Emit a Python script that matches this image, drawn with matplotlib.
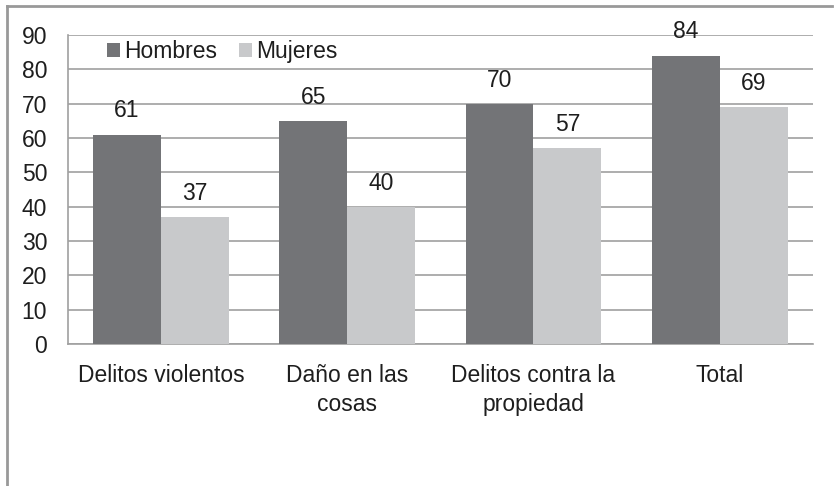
import numpy as np
import matplotlib
matplotlib.use("Agg")
import matplotlib.pyplot as plt
from matplotlib.lines import Line2D

plt.rcParams['font.family'] = ['Liberation Sans', 'DejaVu Sans']

categorias = ["Delitos violentos", "Daño en las\ncosas", "Delitos contra la\npropiedad", "Total"]
hombres = [61, 65, 70, 84]
mujeres = [37, 40, 57, 69]
series = ["Hombres", "Mujeres"]
colores = ["#737477", "#c8c9cb"]

FS = 16.5
TXT = "#1e1e1e"

fig = plt.figure(figsize=(8.35, 4.86), dpi=100)
ax = fig.add_axes([0.0814, 0.292, 0.892, 0.636])

x = np.arange(len(categorias))
w = 0.365
b1 = ax.bar(x - w / 2, hombres, w, color=colores[0], label=series[0], zorder=3)
b2 = ax.bar(x + w / 2, mujeres, w, color=colores[1], label=series[1], zorder=3)

# etiquetas de valor sobre las barras
for bars, vals in ((b1, hombres), (b2, mujeres)):
    for r, v in zip(bars, vals):
        ax.annotate(str(v), (r.get_x() + r.get_width() / 2, v),
                    xytext=(0, 17), textcoords="offset points",
                    ha="center", va="center", fontsize=FS, color=TXT, zorder=4)

ax.set_xlim(-0.5, 3.5)
ax.set_ylim(0, 90)
ax.set_yticks(range(0, 91, 10))
ax.set_xticks(x)
ax.set_xticklabels(categorias, fontsize=FS, color=TXT, linespacing=1.38)
ax.tick_params(axis="y", labelsize=FS, colors=TXT, length=0, pad=15)
ax.tick_params(axis="x", length=0, pad=14)
ax.yaxis.grid(True, color="#a0a0a0", linewidth=1.2, zorder=0)
for s in ("top", "right"):
    ax.spines[s].set_visible(False)
for s in ("left", "bottom"):
    ax.spines[s].set_color("#a0a0a0")
    ax.spines[s].set_linewidth(1.2)

leg = ax.legend(loc="center left", bbox_to_anchor=(0.0524, 0.945), ncol=2, frameon=False,
                fontsize=FS, handlelength=0.57, handleheight=0.57, handletextpad=0.17,
                columnspacing=0.95, borderaxespad=0, borderpad=0)
for t in leg.get_texts():
    t.set_color(TXT)

# marco exterior
fig.add_artist(Line2D([0.008, 0.008], [0.0, 0.988], transform=fig.transFigure, color="#999999", lw=2))
fig.add_artist(Line2D([0.008, 0.996], [0.988, 0.988], transform=fig.transFigure, color="#999999", lw=2))

fig.savefig("out.png", dpi=100)
